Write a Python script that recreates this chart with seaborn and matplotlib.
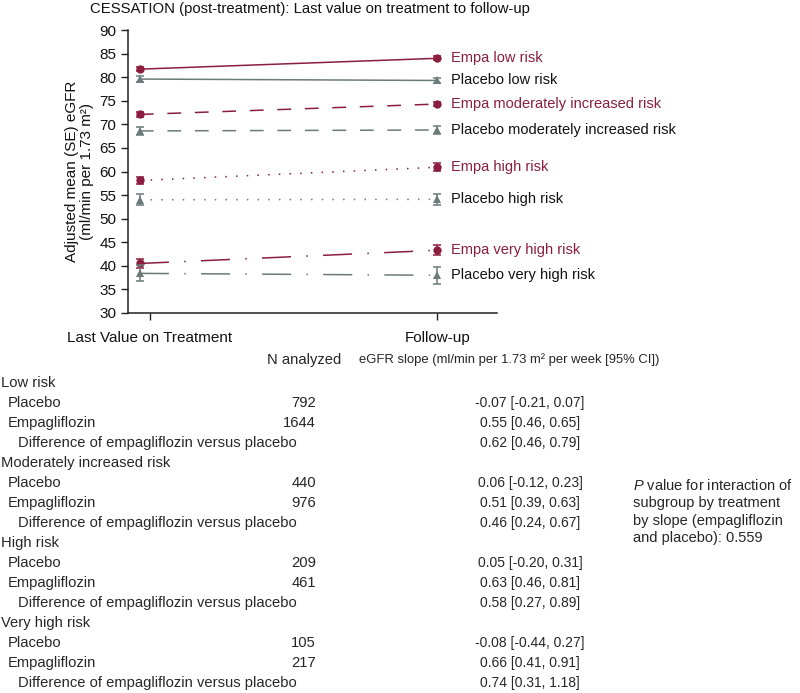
import numpy as np
import pandas as pd
import matplotlib
matplotlib.use("Agg")
import matplotlib.pyplot as plt
import seaborn as sns

# ---- data ----
risk_groups = ["low risk", "moderately increased risk", "high risk", "very high risk"]
empa_last = [81.7, 72.1, 58.1, 40.5]
empa_fu = [84.0, 74.3, 60.9, 43.3]
empa_se_last = [0.4, 0.5, 0.7, 1.0]
empa_se_fu = [0.4, 0.5, 0.8, 1.1]
placebo_last = [79.6, 68.6, 54.0, 38.4]
placebo_fu = [79.3, 68.8, 54.1, 38.0]
placebo_se_last = [0.6, 0.8, 1.2, 1.7]
placebo_se_fu = [0.6, 0.8, 1.2, 1.8]
timepoints = ["Last Value on Treatment", "Follow-up"]

table_groups = ["Low risk", "Moderately increased risk", "High risk", "Very high risk"]
n_placebo = [792, 440, 209, 105]
n_empa = [1644, 976, 461, 217]
slope_placebo = ["-0.07 [-0.21, 0.07]", "0.06 [-0.12, 0.23]", "0.05 [-0.20, 0.31]", "-0.08 [-0.44, 0.27]"]
slope_empa = ["0.55 [0.46, 0.65]", "0.51 [0.39, 0.63]", "0.63 [0.46, 0.81]", "0.66 [0.41, 0.91]"]
slope_diff = ["0.62 [0.46, 0.79]", "0.46 [0.24, 0.67]", "0.58 [0.27, 0.89]", "0.74 [0.31, 1.18]"]
p_interaction = "0.559"

EMPA = "#8b1e3f"
PLAC = "#6b7b79"
dash_styles = ["", (9, 9), (1, 6), (19, 10, 1, 10)]

sns.set_theme(style="ticks")
plt.rcParams["font.family"] = ["Liberation Sans", "DejaVu Sans"]
plt.rcParams["mathtext.fontset"] = "custom"
plt.rcParams["mathtext.it"] = "Liberation Sans:italic"
plt.rcParams["mathtext.rm"] = "Liberation Sans"

# long table for seaborn
rows = []
x_pos = [0.0, 1.0]
for i, g in enumerate(risk_groups):
    for j, t in enumerate(timepoints):
        rows.append({"x": x_pos[j], "value": [empa_last, empa_fu][j][i],
                     "se": [empa_se_last, empa_se_fu][j][i],
                     "series": "Empa " + g, "arm": "Empa", "group": i})
        rows.append({"x": x_pos[j], "value": [placebo_last, placebo_fu][j][i],
                     "se": [placebo_se_last, placebo_se_fu][j][i],
                     "series": "Placebo " + g, "arm": "Placebo", "group": i})
df = pd.DataFrame(rows)

W, H = 800, 693
fig = plt.figure(figsize=(W / 100, H / 100), dpi=100)

def fx(px):
    return px / W

def fy(py):
    return 1 - py / H

ax = fig.add_axes([fx(128), fy(313), fx(497) - fx(128), fy(30) - fy(313)])

for s, d in df.groupby("series", sort=False):
    arm = d["arm"].iloc[0]
    gi = d["group"].iloc[0]
    col = EMPA if arm == "Empa" else PLAC
    mk = "o" if arm == "Empa" else "^"
    sns.lineplot(data=d, x="x", y="value", ax=ax, color=col, marker=mk,
                 markersize=6, markeredgewidth=0, linewidth=1.1,
                 legend=False, errorbar=None)
    line = ax.lines[-1]
    if dash_styles[gi]:
        line.set_dashes(dash_styles[gi])
    ax.errorbar(d["x"], d["value"], yerr=d["se"], fmt="none", ecolor=col,
                elinewidth=1.1, capsize=3, capthick=1.1)
    ax.text(1.045, d["value"].iloc[-1], s, color=EMPA if arm == "Empa" else "#111111",
            fontsize=10.5, va="center", ha="left", clip_on=False)

ax.set_xlim(-0.04, 1.2)
ax.set_ylim(30, 90)
ax.set_yticks(np.arange(30, 91, 5))
ax.set_xticks([0.034, 1.0])
ax.set_xticklabels(timepoints)
ax.tick_params(axis="both", labelsize=11, length=5, width=1, color="#222222", labelcolor="#111111")
ax.tick_params(axis="x", pad=8)
ax.set_xlabel("")
ax.set_ylabel("Adjusted mean (SE) eGFR\n(ml/min per 1.73 m\u00b2)", fontsize=11, color="#111111",
              linespacing=1.1)
for sp in ["top", "right"]:
    ax.spines[sp].set_visible(False)
for sp in ["left", "bottom"]:
    ax.spines[sp].set_linewidth(1.1)
    ax.spines[sp].set_color("#222222")

fig.text(fx(90), fy(9), "CESSATION (post-treatment): Last value on treatment to follow-up",
         fontsize=10.7, va="center", ha="left", color="#111111")

# ---- table ----
fs = 10
fl = 10.6
fig.text(fx(341), fy(360), "N analyzed", fontsize=fl, ha="right", va="center")
fig.text(fx(359), fy(360), "eGFR slope (ml/min per 1.73 m\u00b2 per week [95% CI])",
         fontsize=9.4, ha="left", va="center")

y0, step = 383, 20
for k, g in enumerate(table_groups):
    base = y0 + k * 4 * step
    fig.text(fx(1), fy(base), g, fontsize=fl, ha="left", va="center")
    fig.text(fx(8), fy(base + step), "Placebo", fontsize=fl, ha="left", va="center")
    fig.text(fx(316), fy(base + step), str(n_placebo[k]), fontsize=fl, ha="right", va="center")
    fig.text(fx(530), fy(base + step), slope_placebo[k], fontsize=fs, ha="center", va="center")
    fig.text(fx(8), fy(base + 2 * step), "Empagliflozin", fontsize=fl, ha="left", va="center")
    fig.text(fx(316), fy(base + 2 * step), str(n_empa[k]), fontsize=fl, ha="right", va="center")
    fig.text(fx(530), fy(base + 2 * step), slope_empa[k], fontsize=fs, ha="center", va="center")
    fig.text(fx(18), fy(base + 3 * step), "Difference of empagliflozin versus placebo",
             fontsize=fl, ha="left", va="center")
    fig.text(fx(530), fy(base + 3 * step), slope_diff[k], fontsize=fs, ha="center", va="center")

fig.text(fx(633), fy(478),
         "$\\it{P}$ value for interaction of\nsubgroup by treatment\nby slope (empagliflozin\nand placebo): " + p_interaction,
         fontsize=10.5, ha="left", va="top", linespacing=1.3)

fig.savefig("out.png", dpi=100)
